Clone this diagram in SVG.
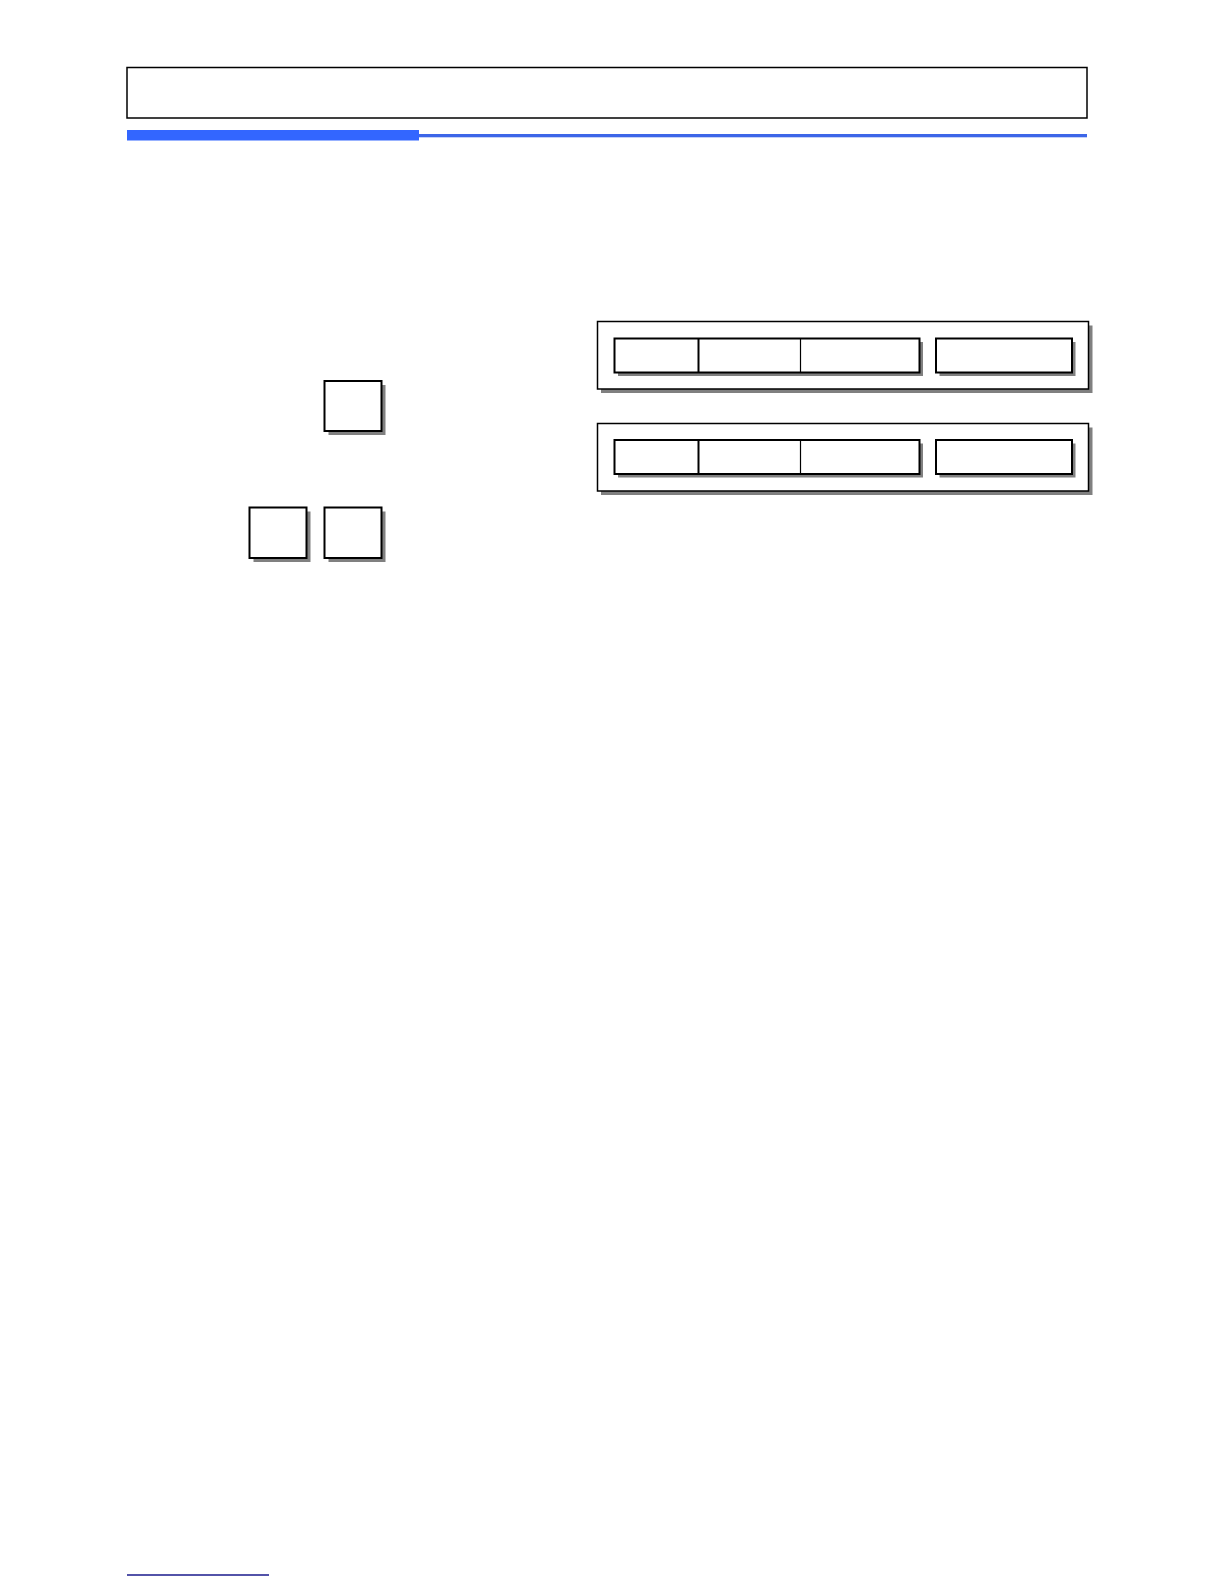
<svg xmlns="http://www.w3.org/2000/svg" width="1224" height="1584" viewBox="0 0 1224 1584">
<style>
.sh{fill:#808080;stroke:none}
.bx{fill:#fff;stroke:#000;stroke-width:2}
.pn{fill:#fff;stroke:#000;stroke-width:1.5}
.dv{stroke:#000;stroke-width:2}
.dv1{stroke:#000;stroke-width:1.2}
</style>
<rect width="1224" height="1584" fill="#fff"/>
<g id="header">
<rect x="127" y="67.5" width="960" height="50.5" fill="#fff" stroke="#000" stroke-width="1.5"/>
<rect x="127" y="130" width="292" height="10.5" fill="#3366ff"/>
<rect x="419" y="134" width="668" height="3.3" fill="#3d66e8"/>
</g>
<g id="key-single">
<rect class="sh" x="328.5" y="385" width="57" height="50"/>
<rect class="bx" x="324.5" y="381" width="57" height="50"/>
</g>
<g id="key-left">
<rect class="sh" x="253.5" y="511.5" width="57" height="50.5"/>
<rect class="bx" x="249.5" y="507.5" width="57" height="50.5"/>
</g>
<g id="key-right">
<rect class="sh" x="328.5" y="511.5" width="57" height="50.5"/>
<rect class="bx" x="324.5" y="507.5" width="57" height="50.5"/>
</g>
<g id="panel-1">
<rect class="sh" x="601" y="325.5" width="491.5" height="67.5"/>
<rect class="pn" x="597.5" y="321.5" width="491" height="67.5"/>
<rect class="sh" x="618" y="342" width="305" height="34"/>
<rect class="bx" x="614.5" y="338.5" width="305" height="34"/>
<line class="dv" x1="698.5" y1="338.5" x2="698.5" y2="372.5"/>
<line class="dv1" x1="800.5" y1="338.5" x2="800.5" y2="372.5"/>
<rect class="sh" x="939.5" y="342" width="136" height="34"/>
<rect class="bx" x="936" y="338.5" width="136" height="34"/>
</g>
<g id="panel-2">
<rect class="sh" x="601" y="427.5" width="491.5" height="67.5"/>
<rect class="pn" x="597.5" y="423.5" width="491" height="67.5"/>
<rect class="sh" x="618" y="443.5" width="305" height="34"/>
<rect class="bx" x="614.5" y="440" width="305" height="34"/>
<line class="dv" x1="698.5" y1="440" x2="698.5" y2="474"/>
<line class="dv1" x1="800.5" y1="440" x2="800.5" y2="474"/>
<rect class="sh" x="939.5" y="443.5" width="136" height="34"/>
<rect class="bx" x="936" y="440" width="136" height="34"/>
</g>
<g id="connectors"></g>
<g id="footer">
<line x1="127" y1="1575" x2="269" y2="1575" stroke="#1a1a8c" stroke-width="1.5"/>
</g>
</svg>
